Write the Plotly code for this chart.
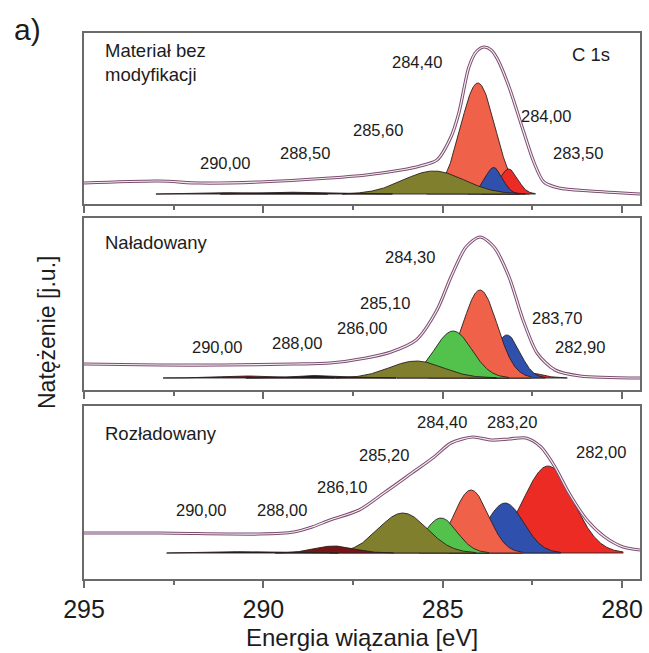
import numpy as np
import plotly.graph_objects as go

# ---------------- data ----------------
X_RANGE = [295.0, 279.5]
MAJOR_TICKS = [295, 290, 285, 280]
MAJOR_TICK_TEXT = ["295", "290", "285", "280"]
MINOR_TICKS = [292.5, 287.5, 282.5]

PANEL_NAMES = ["Materiał bez<br>modyfikacji", "Naładowany", "Rozładowany"]
PANEL_YMAX = [171, 172, 173]

# measured envelopes (binding energy, intensity a.u.)
p1_env_E = [295.0, 292.91, 291.77, 290.09, 288.14, 287.14, 286.16, 285.63, 285.16, 284.77, 284.55,
            284.27, 284.07, 283.85, 283.65, 283.46, 283.15, 282.76, 282.45, 282.18, 281.76, 280.89, 279.5]
p1_env_v = [21, 23, 21, 22, 26, 29, 34, 38, 44, 67, 91, 137, 152, 157, 154, 144, 117, 74, 41, 22, 16, 13, 10]

p2_env_E = [295.0, 292.88, 291.12, 289.15, 288.14, 287.14, 286.44, 285.74, 285.16, 284.77, 284.35,
            283.96, 283.57, 283.15, 282.76, 282.37, 281.87, 281.17, 279.5]
p2_env_v = [26, 25, 25, 26, 27, 32, 38, 50, 80, 113, 143, 153, 143, 113, 70, 37, 20, 14, 12]

p3_env_E = [295.0, 292.88, 290.12, 289.15, 288.64, 288.14, 287.33, 286.64, 285.86, 285.24, 284.77,
            284.16, 283.65, 283.15, 282.68, 282.26, 281.87, 281.48, 280.98, 280.48, 279.97, 279.5]
p3_env_v = [46, 46, 45, 47, 52, 59, 69, 86, 106, 122, 136, 142, 139, 140, 141, 132, 112, 86, 59, 42, 32, 29]

# backgrounds (binding energy, intensity)
p1_bg_E = [295.0, 288.0, 286.0, 284.5, 283.5, 282.5, 279.5]
p1_bg_v = [21, 20, 19, 17, 14, 12, 10]
p2_bg_E = [295.0, 288.0, 286.0, 284.5, 283.2, 282.0, 279.5]
p2_bg_v = [26, 25, 23, 20, 16, 13, 12]
p3_bg_E = [295.0, 289.0, 287.5, 286.0, 284.0, 282.0, 279.5]
p3_bg_v = [46, 45, 43, 41, 36, 30, 26]

# fitted components, listed back-to-front: type, centre (eV), height, width (sigma, eV)
p1_comp_type = ["orange", "red", "blue", "olive", "darkred", "black"]
p1_comp_E = [284.02, 283.16, 283.58, 285.25, 290.6, 288.8]
p1_comp_h = [111, 25, 26.5, 23, 1.5, 2.0]
p1_comp_s = [0.48, 0.25, 0.24, 0.85, 0.8, 0.8]

p2_comp_type = ["red", "blue", "orange", "green", "olive", "darkred", "black"]
p2_comp_E = [282.57, 283.21, 283.96, 284.71, 285.74, 290.4, 288.4]
p2_comp_h = [5, 43, 88, 47, 17, 2.0, 2.5]
p2_comp_s = [0.35, 0.36, 0.48, 0.52, 0.75, 0.8, 0.7]

p3_comp_type = ["red", "blue", "orange", "green", "olive", "darkred", "black"]
p3_comp_E = [282.06, 283.26, 284.21, 285.05, 286.11, 288.03, 290.3]
p3_comp_h = [87, 50, 63, 35, 40, 7, 1.5]
p3_comp_s = [0.70, 0.52, 0.48, 0.45, 0.68, 0.55, 0.8]

# peak labels: text and their anchor position (eV, intensity)
p1_lab_text = ["284,40", "284,00", "285,60", "288,50", "290,00", "283,50"]
p1_lab_E = [285.72, 282.12, 286.80, 288.84, 291.07, 281.23]
p1_lab_v = [142, 88, 74, 51, 41, 51]

p2_lab_text = ["284,30", "285,10", "283,70", "286,00", "288,00", "290,00", "282,90"]
p2_lab_E = [285.91, 286.61, 281.81, 287.25, 289.06, 291.28, 281.17]
p2_lab_v = [133, 87, 72, 62, 47, 43, 43]

p3_lab_text = ["284,40", "283,20", "282,00", "285,20", "286,10", "290,00", "288,00"]
p3_lab_E = [285.01, 283.07, 280.59, 286.64, 287.81, 291.74, 289.48]
p3_lab_v = [157, 157, 127, 124, 92, 69, 69]

# ---------------- styles ----------------
COLORS = {
    "olive": "#7f7f2e",
    "green": "#52c24d",
    "orange": "#f0614a",
    "blue": "#3050ad",
    "red": "#ec2c24",
    "darkred": "#7a1414",
    "black": "#1a1a1a",
}
FONT = "Liberation Sans, Arial, sans-serif"
TXT = "#1c1c1c"
FRAME = "#6a6a6a"
W, H = 649, 653
PX_LEFT, PX_RIGHT = 84, 640
PANEL_PX = [(33, 204), (218, 390), (406, 579)]

panels = [
    dict(env=(p1_env_E, p1_env_v), bg=(p1_bg_E, p1_bg_v),
         comp=(p1_comp_type, p1_comp_E, p1_comp_h, p1_comp_s),
         lab=(p1_lab_text, p1_lab_E, p1_lab_v)),
    dict(env=(p2_env_E, p2_env_v), bg=(p2_bg_E, p2_bg_v),
         comp=(p2_comp_type, p2_comp_E, p2_comp_h, p2_comp_s),
         lab=(p2_lab_text, p2_lab_E, p2_lab_v)),
    dict(env=(p3_env_E, p3_env_v), bg=(p3_bg_E, p3_bg_v),
         comp=(p3_comp_type, p3_comp_E, p3_comp_h, p3_comp_s),
         lab=(p3_lab_text, p3_lab_E, p3_lab_v)),
]

fig = go.Figure()
grid = np.linspace(279.5, 295.0, 1400)
annotations = []

for i, p in enumerate(panels):
    xa = "x" if i == 0 else f"x{i+1}"
    ya = "y" if i == 0 else f"y{i+1}"
    bgE, bgv = p["bg"]
    bg = np.interp(grid, bgE, bgv)
    for t, c, h, s in zip(*p["comp"]):
        m = np.abs(grid - c) < 3.0 * s
        xs = grid[m]
        top = bg[m] + h * np.exp(-((xs - c) ** 2) / (2 * s * s))
        bot = bg[m]
        fig.add_trace(go.Scatter(
            x=np.concatenate([xs, xs[::-1]]), y=np.concatenate([top, bot[::-1]]),
            xaxis=xa, yaxis=ya, mode="lines", fill="toself",
            fillcolor=COLORS[t], line=dict(color="#2a1f1f", width=0.9),
            hoverinfo="skip", showlegend=False))
    envE, envv = p["env"]
    fig.add_trace(go.Scatter(x=envE, y=envv, xaxis=xa, yaxis=ya, mode="lines",
                             line=dict(color="#7b4e70", width=3.2, shape="spline", smoothing=0.8),
                             hoverinfo="skip", showlegend=False))
    fig.add_trace(go.Scatter(x=envE, y=envv, xaxis=xa, yaxis=ya, mode="lines",
                             line=dict(color="#f6ecf3", width=1.2, shape="spline", smoothing=0.8),
                             hoverinfo="skip", showlegend=False))
    for t, e, v in zip(*p["lab"]):
        annotations.append(dict(x=e, y=v, xref=xa, yref=ya, text=t, showarrow=False,
                                font=dict(family=FONT, size=16.5, color=TXT),
                                xanchor="center", yanchor="middle"))
    name_v = [141.5, 148, 146][i]
    annotations.append(dict(x=294.47, y=name_v, xref=xa, yref=ya, text=PANEL_NAMES[i],
                            showarrow=False, align="left",
                            font=dict(family=FONT, size=18.5, color=TXT),
                            xanchor="left", yanchor="middle"))

annotations.append(dict(x=280.87, y=150, xref="x", yref="y", text="C 1s", showarrow=False,
                        font=dict(family=FONT, size=18.5, color=TXT),
                        xanchor="center", yanchor="middle"))
annotations.append(dict(x=27 / W, y=1 - 29 / H, xref="paper", yref="paper", text="a)",
                        showarrow=False, font=dict(family=FONT, size=30, color=TXT),
                        xanchor="center", yanchor="middle"))
annotations.append(dict(x=362 / W, y=1 - 637 / H, xref="paper", yref="paper",
                        text="Energia wiązania [eV]", showarrow=False,
                        font=dict(family=FONT, size=24, color=TXT),
                        xanchor="center", yanchor="middle"))
annotations.append(dict(x=47 / W, y=1 - 333 / H, xref="paper", yref="paper",
                        text="Natężenie [j.u.]", showarrow=False, textangle=-90,
                        font=dict(family=FONT, size=23, color=TXT),
                        xanchor="center", yanchor="middle"))

layout = dict(width=W, height=H, margin=dict(l=0, r=0, t=0, b=0, autoexpand=False),
              paper_bgcolor="white", plot_bgcolor="white", showlegend=False,
              annotations=annotations)
for i in range(3):
    top_px, bot_px = PANEL_PX[i]
    xk = "xaxis" if i == 0 else f"xaxis{i+1}"
    yk = "yaxis" if i == 0 else f"yaxis{i+1}"
    ya = "y" if i == 0 else f"y{i+1}"
    xa = "x" if i == 0 else f"x{i+1}"
    layout[xk] = dict(domain=[PX_LEFT / W, PX_RIGHT / W], range=X_RANGE, anchor=ya,
                      showline=True, mirror=True, linecolor=FRAME, linewidth=1.6,
                      ticks="outside", ticklen=7, tickwidth=1.5, tickcolor=FRAME,
                      tickmode="array", tickvals=MAJOR_TICKS, ticktext=MAJOR_TICK_TEXT,
                      showticklabels=(i == 2), automargin=False,
                      tickfont=dict(family=FONT, size=25, color=TXT),
                      minor=dict(ticks="outside", ticklen=4, tickwidth=1.5, tickcolor=FRAME,
                                 tickmode="array", tickvals=MINOR_TICKS),
                      showgrid=False, zeroline=False, fixedrange=True)
    layout[yk] = dict(domain=[1 - bot_px / H, 1 - top_px / H], range=[0, PANEL_YMAX[i]],
                      anchor=xa, showline=True, mirror=True, linecolor=FRAME, linewidth=1.6,
                      ticks="", showticklabels=False, showgrid=False, zeroline=False,
                      automargin=False, fixedrange=True)

fig.update_layout(**layout)
fig.write_html("out.html", config={"displayModeBar": False})

with open("out.html", "r", encoding="utf-8") as f:
    html = f.read()
html = html.replace("<head>", "<head><style>html,body{margin:0;padding:0;overflow:hidden;}</style>", 1)
with open("out.html", "w", encoding="utf-8") as f:
    f.write(html)
